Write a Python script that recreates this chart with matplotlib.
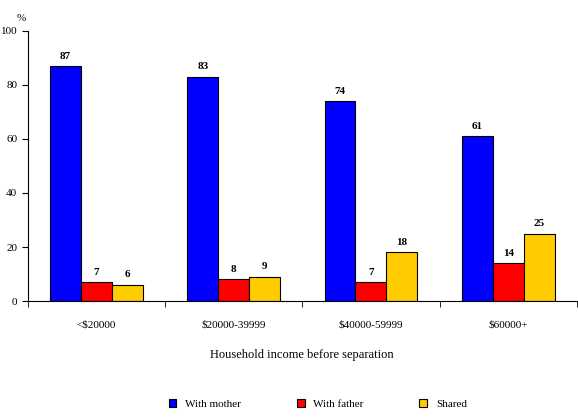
import numpy as np
import matplotlib
matplotlib.use('Agg')
import matplotlib.pyplot as plt

categories = ['<$20000', '$20000-39999', '$40000-59999', '$60000+']
with_mother = [87, 83, 74, 61]
with_father = [7, 8, 7, 14]
shared = [6, 9, 18, 25]

plt.rcParams['font.family'] = ['Liberation Serif', 'DejaVu Serif']

fig = plt.figure(figsize=(5.78, 4.17), dpi=100)
ax = fig.add_axes([0.048, 0.278, 0.950, 0.648])

x = np.arange(len(categories)) + 0.5
w = 0.225
series = [(with_mother, '#0000FF', 'With mother', -w),
          (with_father, '#FF0000', 'With father', 0),
          (shared, '#FFCC00', 'Shared', w)]
for vals, col, lab, off in series:
    bars = ax.bar(x + off, vals, w, color=col, edgecolor='black', linewidth=0.8, label=lab)
    for b, v in zip(bars, vals):
        ax.text(b.get_x() + b.get_width() / 2, v + 2, str(v), ha='center', va='bottom',
                fontsize=8, fontweight='bold')

ax.set_xlim(0, 4)
ax.set_ylim(0, 100)
ax.set_yticks(range(0, 101, 20))
ax.set_xticks(x)
ax.set_xticklabels(categories, fontsize=8)
ax.tick_params(axis='x', length=0, pad=14)
ax.set_xticks(range(0, 5), minor=True)
ax.tick_params(axis='x', which='minor', length=4)
ax.tick_params(axis='y', labelsize=8, length=4)
for s in ['top', 'right']:
    ax.spines[s].set_visible(False)
ax.text(-0.05, 103, '%', fontsize=8, ha='center', va='bottom')
ax.set_xlabel('Household income before separation', fontsize=9, labelpad=14)

fig.legend(loc='lower center', ncol=3, frameon=False, fontsize=8,
           bbox_to_anchor=(0.55, -0.005), handlelength=0.7, handleheight=0.7,
           columnspacing=5)
fig.savefig('out.png', dpi=100)
